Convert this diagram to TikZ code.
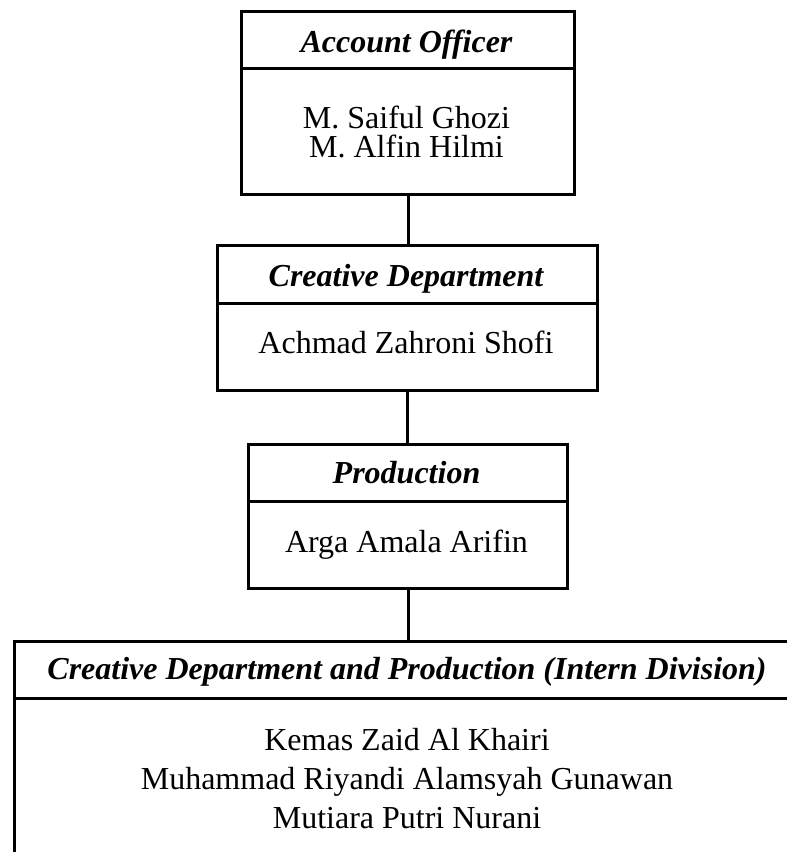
\documentclass[tikz,border=0pt]{standalone}
\usepackage{fontspec}
\setmainfont{Liberation Serif}
\begin{document}
\begin{tikzpicture}[x=1pt,y=-1pt,
  frame/.style={draw, line width=3pt, inner sep=0pt, anchor=north west},
  ttl/.style={anchor=base, inner sep=0pt, font=\fontsize{32}{32}\selectfont\bfseries\itshape},
  nm/.style={anchor=base, inner sep=0pt, font=\fontsize{32}{32}\selectfont},
  link/.style={draw, line width=3pt}]
\useasboundingbox (0,0) rectangle (787,852);
\clip (0,0) rectangle (787,852);
% Box 1
\node[frame, minimum width=333pt, minimum height=57pt] (h1) at (240,10) {};
\node[frame, minimum width=333pt, minimum height=126pt] (b1) at (240,67) {};
\node[ttl] (t1) at (406.5,52) {Account Officer};
\node[nm] (n1a) at (406.5,128) {M. Saiful Ghozi};
\node[nm] (n1b) at (406.5,157) {M. Alfin Hilmi};
% Box 2
\node[frame, minimum width=380pt, minimum height=58pt] (h2) at (216,244) {};
\node[frame, minimum width=380pt, minimum height=87pt] (b2) at (216,302) {};
\node[ttl] (t2) at (406,286) {Creative Department};
\node[nm] (n2) at (406,353) {Achmad Zahroni Shofi};
% Box 3
\node[frame, minimum width=319pt, minimum height=57pt] (h3) at (247,443) {};
\node[frame, minimum width=319pt, minimum height=87pt] (b3) at (247,500) {};
\node[ttl] (t3) at (406.5,483) {Production};
\node[nm] (n3) at (406.5,552) {Arga Amala Arifin};
% Box 4
\node[frame, minimum width=788pt, minimum height=57pt] (h4) at (13,640) {};
\node[frame, minimum width=788pt, minimum height=190pt] (b4) at (13,697) {};
\node[ttl] (t4) at (407,679) {Creative Department and Production (Intern Division)};
\node[nm] (n4a) at (407,750) {Kemas Zaid Al Khairi};
\node[nm] (n4b) at (407,789) {Muhammad Riyandi Alamsyah Gunawan};
\node[nm] (n4c) at (407,828) {Mutiara Putri Nurani};
% Connectors
\draw[link] (b1.south) -- (b1.south |- h2.north);
\draw[link] (b2.south) -- (b2.south |- h3.north);
\draw[link] (b3.south) -- (b3.south |- h4.north);
\end{tikzpicture}
\end{document}
